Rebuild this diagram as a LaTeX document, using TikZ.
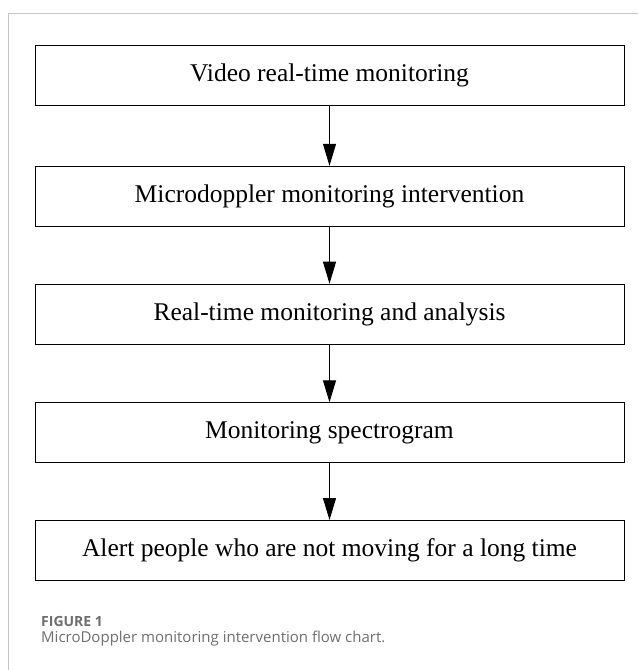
\documentclass[tikz,border=0pt]{standalone}
\usepackage{fontspec}
\setmainfont{Liberation Serif}
\newfontfamily\capfont{Open Sans}
\usetikzlibrary{arrows.meta}
\definecolor{framegray}{HTML}{C4C4C4}
\definecolor{capgray}{HTML}{6E6E6E}
\tikzset{
  flowbox/.style={draw=black, line width=1pt, minimum width=589pt, minimum height=60pt,
    inner sep=0pt, font=\fontsize{25.5}{30}\selectfont, anchor=center},
  flowarrow/.style={line width=1pt, -{Triangle[length=22pt,width=13pt]}},
}
\begin{document}
\begin{tikzpicture}[x=1pt,y=-1pt]
\useasboundingbox (0,0) rectangle (638,670);
\draw[framegray, line width=1pt] (8.5,670) -- (8.5,13.5) -- (638,13.5);
\node[flowbox] (b1) at (329.5,75.6) {Video real-time monitoring};
\node[flowbox] (b2) at (329.5,196.3) {Microdoppler monitoring intervention};
\node[flowbox] (b3) at (329.5,314.2) {Real-time monitoring and analysis};
\node[flowbox] (b4) at (329.5,432.8) {Monitoring spectrogram};
\node[flowbox] (b5) at (329.5,550.5) {Alert people who are not moving for a long time};
\draw[flowarrow] (b1) -- (b2);
\draw[flowarrow] (b2) -- (b3);
\draw[flowarrow] (b3) -- (b4);
\draw[flowarrow] (b4) -- (b5);
\node[anchor=base west, inner sep=0pt, text=capgray, font=\fontsize{14}{16}\selectfont\capfont\bfseries] (fig) at (41,626) {FIGURE 1};
\node[anchor=base west, inner sep=0pt, text=capgray, font=\fontsize{15}{18}\selectfont\capfont] (cap) at (41,642) {MicroDoppler monitoring intervention flow chart.};
\end{tikzpicture}
\end{document}
